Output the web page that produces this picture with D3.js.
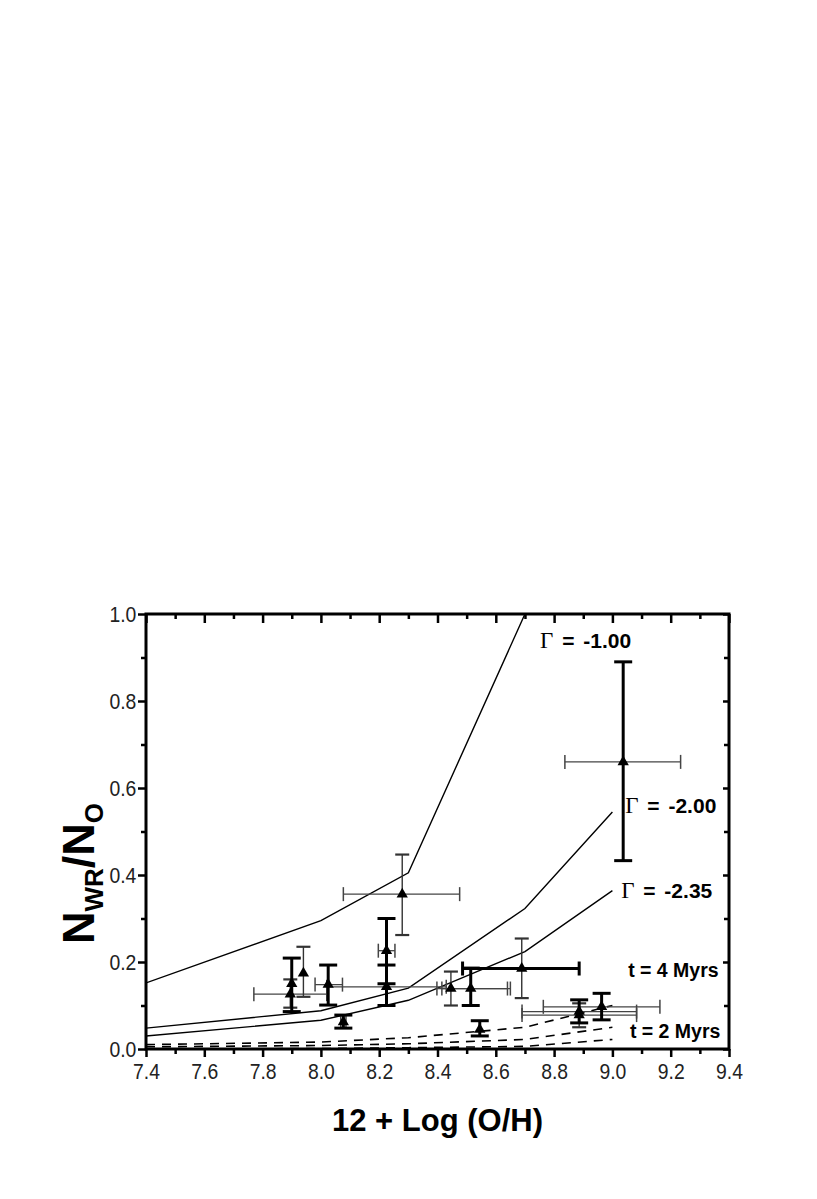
<!DOCTYPE html>
<html><head><meta charset="utf-8">
<script src="https://cdn.jsdelivr.net/npm/d3@7"></script>
<style>
body{margin:0;background:#fff}
svg{display:block;background:#fff}
.tick text{font-family:"Liberation Sans",Arial,sans-serif;font-size:22px;fill:#222}
</style>
</head><body>
<svg id="c" width="817" height="1199"></svg>
<script>
// ---------- data ----------
const xTicks = [7.4,7.6,7.8,8.0,8.2,8.4,8.6,8.8,9.0,9.2,9.4];
const xMinorTicks = [7.5,7.7,7.9,8.1,8.3,8.5,8.7,8.9,9.1,9.3];
const yTicks = [0.0,0.2,0.4,0.6,0.8,1.0];
const yMinorTicks = [0.1,0.3,0.5,0.7,0.9];

// model grid (12 + log O/H)
const modelOH = [7.4, 8.0, 8.3, 8.7, 9.0];
// t = 4 Myr models
const gammaM100 = [0.152, 0.295, 0.405, 1.0, 1.45];
const gammaM200 = [0.048, 0.088, 0.140, 0.323, 0.545];
const gammaM235 = [0.030, 0.066, 0.112, 0.224, 0.364];
// t = 2 Myr models
const t2a = [0.010, 0.016, 0.026, 0.050, 0.100];
const t2b = [0.005, 0.008, 0.012, 0.022, 0.050];
const t2c = [0.000, 0.001, 0.003, 0.006, 0.022];

// observed points
const obsOH  = [9.037, 8.279, 8.689, 8.446, 8.514, 8.025, 7.900, 7.940, 7.895, 8.225, 8.225, 8.077, 8.545, 8.886, 8.886, 8.963];
const obsRatio=[0.660, 0.356, 0.185, 0.139, 0.139, 0.148, 0.150, 0.174, 0.126, 0.226, 0.143, 0.062, 0.045, 0.086, 0.078, 0.097];

// error bars: [point index, low, high]
const yErrHeavy = [[0,0.433,0.890],[4,0.100,0.186],[5,0.101,0.193],[6,0.086,0.209],[9,0.150,0.300],
                   [10,0.100,0.193],[11,0.048,0.078],[12,0.030,0.065],[13,0.060,0.113],[15,0.067,0.128]];
const yErrLight = [[1,0.262,0.447],[2,0.117,0.254],[3,0.100,0.178],[7,0.120,0.235],[8,0.095,0.160],[14,0.050,0.105]];
const xErrHeavy = [[2,8.486,8.886]];
const xErrLight = [[0,8.837,9.234],[1,8.077,8.476],[4,8.398,8.640],[3,8.415,8.650],[5,7.980,8.074],
                   [8,7.770,8.020],[9,8.197,8.254],[10,8.020,8.430],[11,8.068,8.086],[13,8.690,9.083],
                   [14,8.690,9.083],[15,8.763,9.163]];

const curveLabels = [
  {g:"Γ", t:" = -1.00", x:8.752, y:0.922, kind:"gamma"},
  {g:"Γ", t:" = -2.00", x:9.044, y:0.5425, kind:"gamma"},
  {g:"Γ", t:" = -2.35", x:9.030, y:0.347, kind:"gamma"},
  {g:"",  t:"t = 4 Myrs", x:9.054, y:0.1655, kind:"time"},
  {g:"",  t:"t = 2 Myrs", x:9.060, y:0.0253, kind:"time"}
];

// ---------- layout ----------
const W = 817, H = 1199;
const margin = {left:146, right:88, top:614, bottom:150};
const svg = d3.select('#c');
svg.append('rect').attr('width',W).attr('height',H).attr('fill','#fff');

const x = d3.scaleLinear().domain([7.4, 9.4]).range([margin.left, W - margin.right]);
const y = d3.scaleLinear().domain([0, 1]).range([H - margin.bottom, margin.top]);

svg.append('clipPath').attr('id','clip').append('rect')
  .attr('x', x(7.4)).attr('y', y(1)).attr('width', x(9.4)-x(7.4)).attr('height', y(0)-y(1));

// ---------- axes ----------
function styleAxis(g){
  g.select('.domain').remove();
  g.selectAll('.tick line').attr('stroke','#000').attr('stroke-width',2.5);
}
const fmt = d3.format('.1f');
svg.append('g').attr('transform',`translate(0,${y(0)})`)
  .call(d3.axisBottom(x).tickValues(xTicks).tickSize(8).tickPadding(6).tickFormat(fmt)).call(styleAxis)
  .selectAll('.tick text').attr('transform','scale(0.88,1)');
svg.append('g').attr('transform',`translate(0,${y(0)})`)
  .call(d3.axisBottom(x).tickValues(xMinorTicks).tickSize(5).tickFormat('')).call(styleAxis);
svg.append('g').attr('transform',`translate(0,${y(1)})`)
  .call(d3.axisTop(x).tickValues(xTicks).tickSize(-9).tickFormat('')).call(styleAxis);
svg.append('g').attr('transform',`translate(0,${y(1)})`)
  .call(d3.axisTop(x).tickValues(xMinorTicks).tickSize(-5).tickFormat('')).call(styleAxis);
svg.append('g').attr('transform',`translate(${x(7.4)},0)`)
  .call(d3.axisLeft(y).tickValues(yTicks).tickSize(8).tickPadding(3).tickFormat(fmt)).call(styleAxis)
  .selectAll('.tick text').attr('transform','scale(0.88,1)');
svg.append('g').attr('transform',`translate(${x(7.4)},0)`)
  .call(d3.axisLeft(y).tickValues(yMinorTicks).tickSize(5).tickFormat('')).call(styleAxis);
svg.append('g').attr('transform',`translate(${x(9.4)},0)`)
  .call(d3.axisRight(y).tickValues(yTicks).tickSize(-6).tickFormat('')).call(styleAxis);
svg.append('g').attr('transform',`translate(${x(9.4)},0)`)
  .call(d3.axisRight(y).tickValues(yMinorTicks).tickSize(-5).tickFormat('')).call(styleAxis);

svg.append('rect').attr('x',x(7.4)).attr('y',y(1)).attr('width',x(9.4)-x(7.4)).attr('height',y(0)-y(1))
  .attr('fill','none').attr('stroke','#000').attr('stroke-width',3);

// ---------- model curves ----------
const line = d3.line().x((d,i)=>x(modelOH[i])).y(d=>y(d));
const plot = svg.append('g').attr('clip-path','url(#clip)');
[gammaM100, gammaM200, gammaM235].forEach(s=>{
  plot.append('path').attr('d', line(s)).attr('fill','none').attr('stroke','#000').attr('stroke-width',1.4);
});
[t2a, t2b, t2c].forEach(s=>{
  plot.append('path').attr('d', line(s)).attr('fill','none').attr('stroke','#000')
    .attr('stroke-width',1.6).attr('stroke-dasharray','9,7');
});

// ---------- error bars ----------
const eb = svg.append('g');
function yBars(list, sw, capSw, capHalf, color){
  list.forEach(([i,lo,hi])=>{
    const cx = x(obsOH[i]);
    eb.append('line').attr('x1',cx).attr('x2',cx).attr('y1',y(lo)).attr('y2',y(hi))
      .attr('stroke',color).attr('stroke-width',sw);
    [lo,hi].forEach(v=>eb.append('line').attr('x1',cx-capHalf).attr('x2',cx+capHalf)
      .attr('y1',y(v)).attr('y2',y(v)).attr('stroke',color).attr('stroke-width',capSw));
  });
}
function xBars(list, sw, capSw, capHalf, color){
  list.forEach(([i,lo,hi])=>{
    const cy = y(obsRatio[i]);
    eb.append('line').attr('x1',x(lo)).attr('x2',x(hi)).attr('y1',cy).attr('y2',cy)
      .attr('stroke',color).attr('stroke-width',sw);
    [lo,hi].forEach(v=>eb.append('line').attr('x1',x(v)).attr('x2',x(v))
      .attr('y1',cy-capHalf).attr('y2',cy+capHalf).attr('stroke',color).attr('stroke-width',capSw));
  });
}
xBars(xErrLight, 1.3, 1.5, 7, '#444');
yBars(yErrLight, 1.4, 2.2, 7, '#333');
xBars(xErrHeavy, 3, 3, 7, '#000');
yBars(yErrHeavy, 3, 3, 9, '#000');

// ---------- points ----------
const tri = d3.symbol().type(d3.symbolTriangle).size(55);
svg.append('g').selectAll('path').data(obsOH).join('path')
  .attr('d', tri)
  .attr('transform',(d,i)=>`translate(${x(d)},${y(obsRatio[i])})`)
  .attr('fill','#000');

// ---------- labels ----------
const lab = svg.append('g').attr('font-family','"Liberation Sans",Arial,sans-serif')
  .attr('font-weight','bold').attr('fill','#000');
curveLabels.forEach(l=>{
  const t = lab.append('text').attr('x',x(l.x)).attr('y',y(l.y))
    .attr('font-size', l.kind==='gamma' ? 21 : 19.5)
    .attr('word-spacing', l.kind==='gamma' ? 3 : 0);
  if(l.g) t.append('tspan').attr('font-family','"Liberation Serif","DejaVu Serif",serif')
            .attr('font-weight','normal').attr('font-size',23).text(l.g);
  t.append('tspan').text(l.t);
});

// axis titles
svg.append('text').attr('x',(x(7.4)+x(9.4))/2).attr('y',1131)
  .attr('text-anchor','middle').attr('font-family','"Liberation Sans",Arial,sans-serif')
  .attr('font-weight','bold').attr('font-size',31).text('12 + Log (O/H)');

const yt = svg.append('text').attr('transform',`translate(94,${(y(0)+y(1))/2 + 42}) rotate(-90)`)
  .attr('text-anchor','middle').attr('font-family','"Liberation Sans",Arial,sans-serif')
  .attr('font-weight','bold').attr('font-size',45);
yt.append('tspan').text('N');
yt.append('tspan').attr('font-size',26).attr('dy',9).text('WR');
yt.append('tspan').attr('dy',-9).text('/N');
yt.append('tspan').attr('font-size',26).attr('dy',9).text('O');
</script>
</body></html>
